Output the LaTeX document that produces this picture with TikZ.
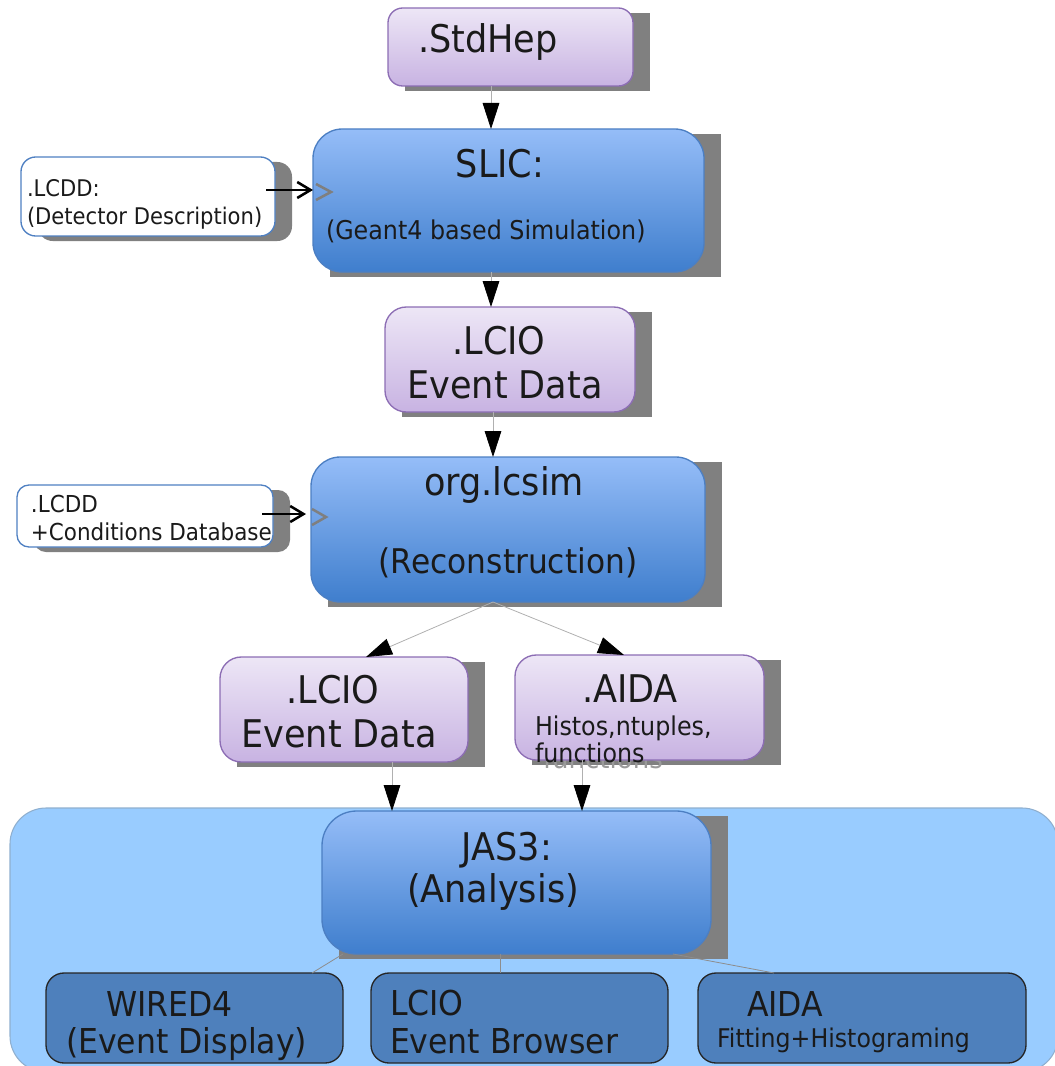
\documentclass[tikz,border=0pt]{standalone}
\usepackage{fontspec}
\setmainfont{DejaVu Sans}[FakeStretch=0.92]
\usetikzlibrary{arrows.meta}
\pgfdeclarelayer{regionlayer}
\pgfdeclarelayer{shadowlayer}
\pgfsetlayers{regionlayer,shadowlayer,main}
\definecolor{lavtop}{HTML}{EDE6F6}
\definecolor{lavbot}{HTML}{C8B3E2}
\definecolor{lavline}{HTML}{8C6DB4}
\definecolor{blutop}{HTML}{95BDF8}
\definecolor{blubot}{HTML}{3F7ECD}
\definecolor{bluline}{HTML}{4C7FC3}
\definecolor{whtline}{HTML}{4F80C2}
\definecolor{drkfill}{HTML}{4E80BC}
\definecolor{regfill}{HTML}{99CCFF}
\definecolor{regline}{HTML}{8FAFCF}
\definecolor{shadowc}{HTML}{808080}
\definecolor{conngray}{HTML}{B0B0B0}
\definecolor{chevgray}{HTML}{7F7F7F}
\definecolor{txtc}{HTML}{1A1A1A}
\definecolor{ghostc}{HTML}{9A9A9A}
\newcommand\fsz[1]{\fontsize{#1pt}{#1pt}\selectfont}
\newcommand\mkbox[7]{%
  \node[#2, rounded corners=#7pt, minimum width={(#5-#3)*0.75pt}, minimum height={(#6-#4)*0.75pt}] (#1) at ({(#3+#5)/2},{(#4+#6)/2}) {};}
\tikzset{
  every node/.style={inner sep=0pt, outer sep=0pt},
  lav/.style={draw=lavline, line width=1pt, top color=lavtop, bottom color=lavbot},
  blu/.style={draw=bluline, line width=1pt, top color=blutop, bottom color=blubot},
  wht/.style={draw=whtline, line width=1pt, fill=white},
  drk/.style={draw=black!85, line width=1pt, fill=drkfill},
  lbl/.style={text=txtc},
  conn/.style={draw=conngray, line width=0.6pt, -{Triangle[length=19.5pt,width=12.5pt,color=black]}},
  feed/.style={draw=black, line width=1.9pt, -{Straight Barb[length=10pt,width=12pt]}},
  chev/.style={draw=chevgray, line width=1.9pt},
  shd/.style={fill=shadowc},
  sub/.style={draw=conngray!80!black, line width=0.6pt},
}
\begin{document}
\begin{tikzpicture}[x=0.75pt,y=-0.75pt]
\useasboundingbox (0,0) rectangle (1055,1066);
% region
\begin{pgfonlayer}{regionlayer}
  \path[fill=regfill, draw=regline, line width=0.8pt, rounded corners=27pt] (10,808) rectangle (1058,1072);
\end{pgfonlayer}
% boxes
\mkbox{stdhep}{lav}{388}{8}{633}{86}{11}
\mkbox{slic}{blu}{313}{129}{704}{272}{22}
\mkbox{lcdda}{wht}{21}{157}{275}{236}{11}
\mkbox{lcioa}{lav}{385}{307}{635}{412}{16}
\mkbox{org}{blu}{311}{457}{705}{602}{22}
\mkbox{lcddb}{wht}{17}{485}{273}{547}{9}
\mkbox{lciob}{lav}{220}{657}{468}{762}{16}
\mkbox{aida}{lav}{515}{655}{764}{760}{16}
\mkbox{jas}{blu}{322}{811}{711}{954}{26}
\mkbox{wired}{drk}{46}{973}{343}{1063}{13.5}
\mkbox{browser}{drk}{371}{973}{668}{1063}{13.5}
\mkbox{fit}{drk}{698}{973}{1026}{1063}{13.5}
% shadows
\begin{pgfonlayer}{shadowlayer}
  \foreach \b in {stdhep,slic,lcioa,org,lciob,aida,jas}{
    \fill[shd] ([shift={(17,5)}]\b.north west) rectangle ([shift={(17,5)}]\b.south east);
  }
  \fill[shd, rounded corners=11pt] ([shift={(17,5)}]lcdda.north west) rectangle ([shift={(17,5)}]lcdda.south east);
  \fill[shd, rounded corners=9pt] ([shift={(17,5)}]lcddb.north west) rectangle ([shift={(17,5)}]lcddb.south east);
  \node[text=ghostc, anchor=base west, font=\fsz{21.2}] (ghost) at (543,768) {functions};
\end{pgfonlayer}
% texts
\node[lbl, font=\fsz{28.6}, anchor=base west] (tStd) at (418,53) {.StdHep};
\node[lbl, font=\fsz{28.6}, anchor=base] (tSlic) at (500,178) {SLIC:};
\node[lbl, font=\fsz{19.4}, anchor=base west] (tGeant) at (326,239) {(Geant4 based Simulation)};
\node[lbl, font=\fsz{17.2}, anchor=base west] (tLa1) at (27,197) {.LCDD:};
\node[lbl, font=\fsz{17.2}, anchor=base west] (tLa2) at (27,224) {(Detector Description)};
\node[lbl, font=\fsz{28.6}, anchor=base] (tCa1) at (499,354) {.LCIO};
\node[lbl, font=\fsz{28.6}, anchor=base] (tCa2) at (505,398) {Event Data};
\node[lbl, font=\fsz{28.6}, anchor=base] (tOrg) at (504,495) {org.lcsim};
\node[lbl, font=\fsz{25.5}, anchor=base] (tRec) at (508,573) {(Reconstruction)};
\node[lbl, font=\fsz{17.5}, anchor=base west] (tLb1) at (31,512) {.LCDD};
\node[lbl, font=\fsz{17.5}, anchor=base west] (tLb2) at (31,540) {+Conditions Database};
\node[lbl, font=\fsz{28.6}, anchor=base] (tCb1) at (333,703) {.LCIO};
\node[lbl, font=\fsz{28.6}, anchor=base] (tCb2) at (339,747) {Event Data};
\node[lbl, font=\fsz{28.6}, anchor=base] (tAida) at (630,702) {.AIDA};
\node[lbl, font=\fsz{19.4}, anchor=base west] (tHist) at (535,735) {Histos,ntuples,};
\node[lbl, font=\fsz{19.4}, anchor=base west] (tFunc) at (535,762) {functions};
\node[lbl, font=\fsz{28.6}, anchor=base] (tJas) at (507,860) {JAS3:};
\node[lbl, font=\fsz{28.6}, anchor=base] (tAna) at (493,902) {(Analysis)};
\node[lbl, font=\fsz{25.7}, anchor=base west] (tW1) at (106,1016) {WIRED4};
\node[lbl, font=\fsz{25.7}, anchor=base west] (tW2) at (66,1053) {(Event Display)};
\node[lbl, font=\fsz{25.7}, anchor=base west] (tB1) at (390,1015) {LCIO};
\node[lbl, font=\fsz{25.7}, anchor=base west] (tB2) at (390,1053) {Event Browser};
\node[lbl, font=\fsz{25.7}, anchor=base west] (tF1) at (747,1016) {AIDA};
\node[lbl, font=\fsz{19.3}, anchor=base west] (tF2) at (717,1047) {Fitting+Histograming};
% coordinates for connector positions
\coordinate (xa) at (491,0);
\coordinate (xb) at (493,0);
\coordinate (xc) at (366,0);
\coordinate (xd) at (624,0);
\coordinate (xe) at (392,0);
\coordinate (xf) at (582,0);
\coordinate (ya) at (0,190);
\coordinate (yb) at (0,514);
\coordinate (xg) at (343,0);
\coordinate (xh) at (312,0);
\coordinate (xi) at (500,0);
\coordinate (xj) at (673,0);
\coordinate (xk) at (774,0);
% connectors
\draw[conn] (stdhep.south -| xa) -- (slic.north -| xa);
\draw[conn] (slic.south -| xa) -- (lcioa.north -| xa);
\draw[conn] (lcioa.south -| xb) -- (org.north -| xb);
\draw[conn] (org.south -| xb) -- (lciob.north -| xc);
\draw[conn] (org.south -| xb) -- (aida.north -| xd);
\draw[conn] (lciob.south -| xe) -- (jas.north -| xe);
\draw[conn] (aida.south -| xf) -- (jas.north -| xf);
\draw[feed] (lcdda.east |- ya) ++(-9,0) -- (slic.west |- ya);
\draw[chev] (316,184) -- (331,192) -- (316,200);
\draw[feed] (lcddb.east |- yb) ++(-11,0) -- ([xshift=-3.75pt]org.west |- yb);
\draw[chev] (312,509) -- (326,517) -- (312,525);
\draw[sub] (jas.south -| xg) -- (wired.north -| xh);
\draw[sub] (jas.south -| xi) -- (browser.north -| xi);
\draw[sub] (jas.south -| xj) -- (fit.north -| xk);
\end{tikzpicture}
\end{document}
